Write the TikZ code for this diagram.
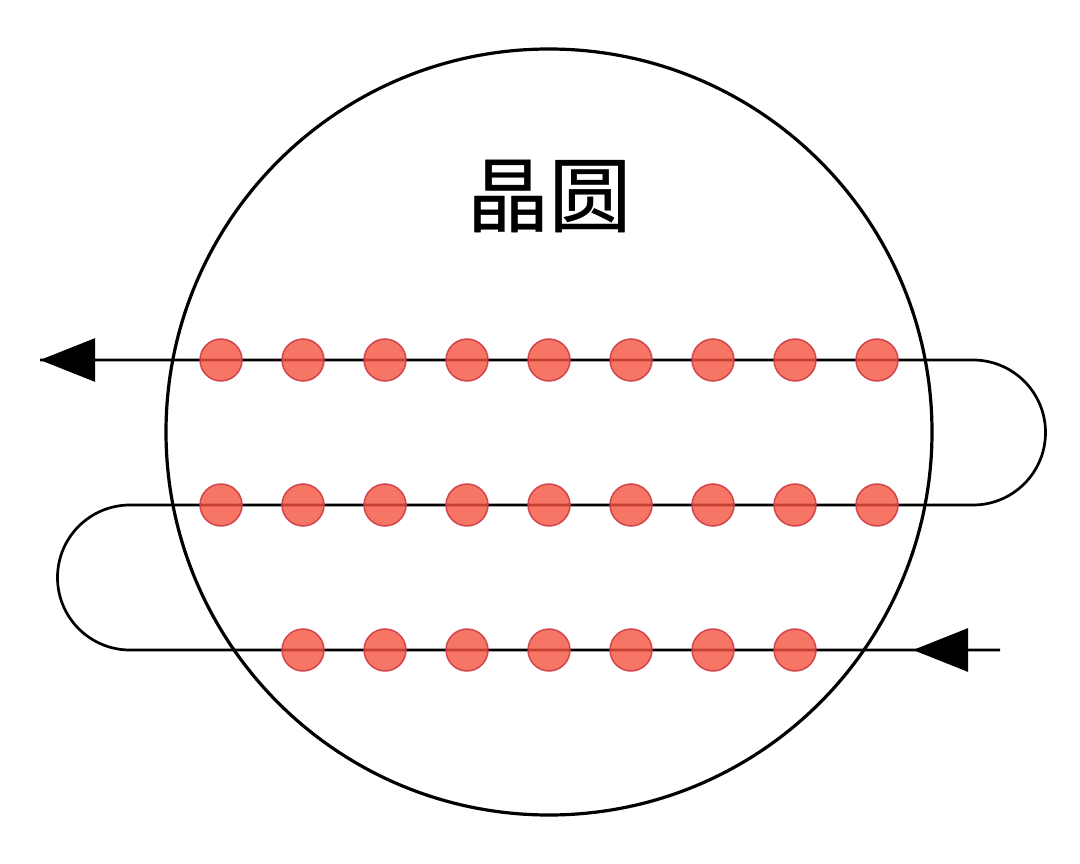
\documentclass[tikz,border=0pt]{standalone}
\usepackage{fontspec}
\newfontfamily\cjk{Noto Sans CJK SC}[FakeBold=0.5]
\usetikzlibrary{arrows.meta}
\definecolor{dotfill}{RGB}{245,82,62}
\definecolor{dotedge}{RGB}{205,60,70}
\tikzset{
	die/.style={circle, minimum size=42pt, inner sep=0pt, fill=dotfill, fill opacity=0.8, draw=dotedge, draw opacity=0.9, line width=1.5pt},
	scanline/.style={line width=2.7pt},
	headtip/.style={-{Triangle[length=55pt,width=43pt]}}
}
\begin{document}
\begin{tikzpicture}[x=1pt,y=-1pt]
			\useasboundingbox (0,0) rectangle (1080,864);
			\draw[line width=3.2pt] (549,432) circle[radius=383pt];
			\node[font=\cjk\fontsize{82}{82}\selectfont] (wafer) at (549,196) {晶圆};
			\coordinate (start) at (1000,650);
			\coordinate (midtip) at (913,650);
			\coordinate (lowleft) at (130,650);
			\coordinate (midleft) at (130,505);
			\coordinate (midright) at (973,505);
			\coordinate (topright) at (973,360);
			\coordinate (endtip) at (40,360);
			\draw[scanline] (start) -- (lowleft)
				arc[start angle=-90, end angle=-270, radius=72.5pt] -- (midright)
				arc[start angle=-90, end angle=90, radius=72.5pt] -- (endtip);
			\draw[scanline, headtip] (start) -- (midtip);
			\draw[scanline, headtip] (topright) -- (endtip);
			\foreach \i in {0,...,8}{
				\node[die] (top\i) at (221+82*\i, 360) {};
				\node[die] (mid\i) at (221+82*\i, 505) {};
			}
			\foreach \i in {1,...,7}{
				\node[die] (low\i) at (221+82*\i, 650) {};
			}
		\end{tikzpicture}
\end{document}
